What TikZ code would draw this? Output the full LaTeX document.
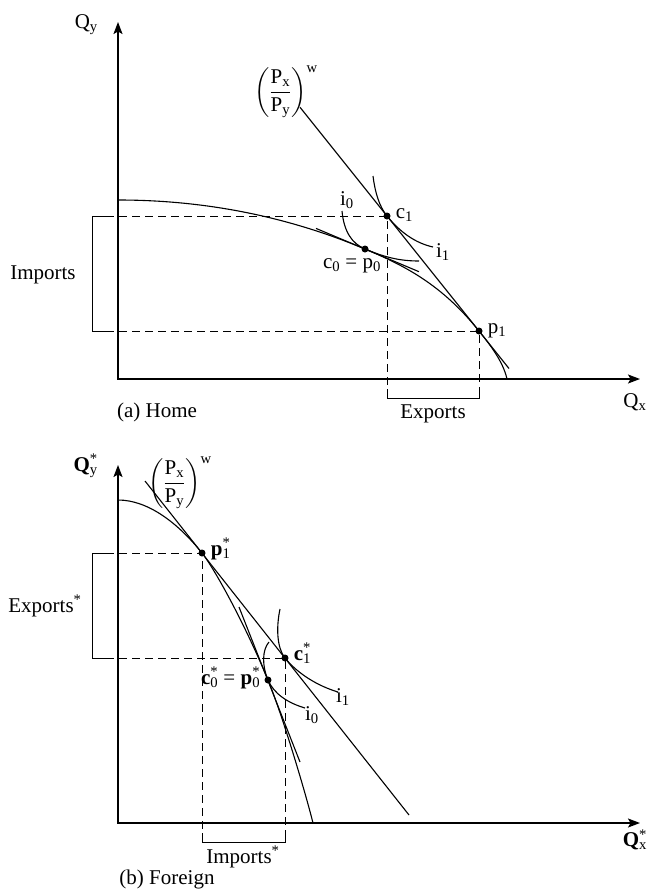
\documentclass[tikz,border=0pt]{standalone}
\usepackage{amsmath}
\usepackage{fontspec}
\setmainfont{Liberation Serif}
\usetikzlibrary{arrows.meta, positioning, calc}

\newcommand{\starsub}[1]{\rlap{\textsuperscript{*}}\textsubscript{#1}}
\newcommand{\worldprice}{$\displaystyle\left(\frac{\text{P}_{\text{x}}}{\text{P}_{\text{y}}}\right)^{\text{w}}$}

\begin{document}
\begin{tikzpicture}[
  x=1pt, y=-1pt,
  axis/.style={{Stealth[length=12pt,width=9pt,inset=2.5pt]}-{Stealth[length=12pt,width=9pt,inset=2.5pt]}, line width=1.4pt},
  curve/.style={line width=1.1pt},
  guide/.style={dash pattern=on 8pt off 5pt, line width=1pt},
  brace/.style={line width=1pt},
  dot/.style={circle, fill, inner sep=0pt, minimum size=7pt},
  lbl/.style={inner sep=0pt, font=\fontsize{21}{25}\selectfont}
]
\useasboundingbox (0,0) rectangle (648,889);

% (a) Home
\coordinate (hO) at (118,379);
\coordinate (hY) at (118,22);
\coordinate (hX) at (640,379);
\draw[axis] (hY) -- (hO) -- (hX);

\node[dot] (p0) at (365,249) {};
\node[dot] (c1) at (387,216) {};
\node[dot] (p1) at (479,331) {};

% production possibilities frontier
\coordinate (hA) at (118,200);
\coordinate (hB) at (507,379);
\draw[curve] (hA) .. controls (200,200) and (283,214.6) .. (p0.center)
  .. controls (403,265) and (441,283.5) .. (p1.center)
  .. controls (489,343.5) and (503,361) .. (hB);

% world price line and autarky price line
\coordinate (hw1) at (300,107.25);
\coordinate (hw2) at (509,368.5);
\draw[curve] (hw1) -- (hw2);
\coordinate (ht1) at (316,228.4);
\coordinate (ht2) at (419,271.7);
\draw[curve] (ht1) -- (ht2);

% indifference curves
\coordinate (hi0s) at (342,211);
\coordinate (hi0e) at (419,261);
\draw[curve] (hi0s) .. controls (344,232) and (352,243.5) .. (p0.center)
  .. controls (385,257.4) and (400,261) .. (hi0e);
\coordinate (hi1s) at (373,176);
\coordinate (hi1e) at (433,247);
\draw[curve] (hi1s) .. controls (375,192) and (379,206) .. (c1.center)
  .. controls (400,232) and (415,243) .. (hi1e);

% trade volumes
\coordinate (hImpT) at (106,216);
\coordinate (hImpB) at (106,331);
\coordinate (hExL) at (387,389);
\coordinate (hExR) at (479,389);
\draw[guide] (hImpT) -- (c1.center) -- (hExL);
\draw[guide] (hImpB) -- (p1.center) -- (hExR);
\draw[brace] (hImpT) -- ++(-14,0) |- (hImpB);
\draw[brace] (hExL) -- ++(0,9) -| (hExR);

\node[lbl, anchor=east] (hQy) at (98,25) {Q\textsubscript{y}};
\node[lbl] (hprice) at (286,92) {\worldprice};
\node[lbl] (hi0) at (347,200) {i\textsubscript{0}};
\node[lbl] (hi1) at (443,252) {i\textsubscript{1}};
\node[lbl, right=5pt of c1, anchor=mid west] (hc1) {c\textsubscript{1}};
\node[lbl, right=5pt of p1, anchor=mid west] (hp1) {p\textsubscript{1}};
\node[lbl, anchor=mid] (hc0) at (352,266) {c\textsubscript{0} = p\textsubscript{0}};
\node[lbl] (hImp) at (43,275) {Imports};
\node[lbl] (hExp) at (433,414) {Exports};
\node[lbl] (hQx) at (635,402) {Q\textsubscript{x}};
\node[lbl] (hcap) at (157,412) {(a) Home};

% (b) Foreign
\coordinate (fO) at (118,823);
\coordinate (fY) at (118,465);
\coordinate (fX) at (640,823);
\draw[axis] (fY) -- (fO) -- (fX);

\node[dot] (p1s) at (202,553) {};
\node[dot] (c1s) at (285,658) {};
\node[dot] (p0s) at (268,680) {};

% production possibilities frontier
\coordinate (fA) at (118,500);
\coordinate (fB) at (313,823);
\draw[curve] (fA) .. controls (148,500) and (178,523) .. (p1s.center)
  .. controls (214,568) and (244,622) .. (p0s.center)
  .. controls (282,714) and (305,791) .. (fB);

% world price line and autarky price line
\coordinate (fw1) at (145,481);
\coordinate (fw2) at (409,815);
\draw[curve] (fw1) -- (fw2);
\coordinate (ft1) at (239,607);
\coordinate (ft2) at (300,762);
\draw[curve] (ft1) -- (ft2);

% indifference curves
\coordinate (fi0s) at (269,642);
\coordinate (fi0e) at (305,708);
\draw[curve] (fi0s) .. controls (262,650) and (262,666) .. (p0s.center)
  .. controls (274,694) and (288,703) .. (fi0e);
\coordinate (fi1s) at (280,609);
\coordinate (fi1e) at (338,692);
\draw[curve] (fi1s) .. controls (276,628) and (277,648) .. (c1s.center)
  .. controls (298,674) and (318,686) .. (fi1e);

% trade volumes
\coordinate (fExT) at (106,553);
\coordinate (fExB) at (106,658);
\coordinate (fImL) at (202,833);
\coordinate (fImR) at (285,833);
\draw[guide] (fExT) -- (p1s.center) -- (fImL);
\draw[guide] (fExB) -- (c1s.center) -- (fImR);
\draw[brace] (fExT) -- ++(-14,0) |- (fExB);
\draw[brace] (fImL) -- ++(0,9) -| (fImR);

\node[lbl, anchor=east] (fQy) at (98,466) {\textbf{Q}\starsub{y}};
\node[lbl] (fprice) at (180,483) {\worldprice};
\node[lbl, right=5pt of p1s, anchor=mid west] (fp1) {\textbf{p}\starsub{1}};
\node[lbl, right=5pt of c1s, anchor=mid west] (fc1) {\textbf{c}\starsub{1}};
\node[lbl, left=4pt of p0s, anchor=mid east, yshift=-2pt] (fc0) {\textbf{c}\starsub{0} = \textbf{p}\starsub{0}};
\node[lbl] (fi1) at (343,697) {i\textsubscript{1}};
\node[lbl] (fi0) at (312,715) {i\textsubscript{0}};
\node[lbl] (fExp) at (45,606) {Exports\textsuperscript{*}};
\node[lbl] (fImp) at (243,857) {Imports\textsuperscript{*}};
\node[lbl] (fQx) at (635,840) {\textbf{Q}\starsub{x}};
\node[lbl] (fcap) at (167,879) {(b) Foreign};
\end{tikzpicture}
\end{document}
